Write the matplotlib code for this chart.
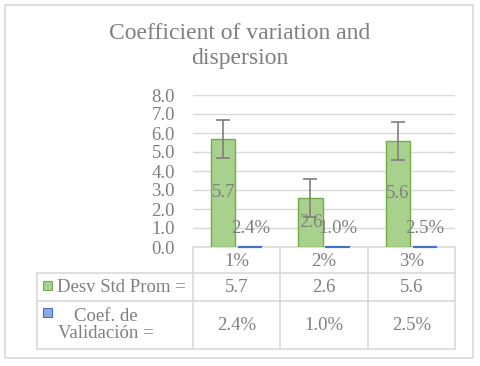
import matplotlib
matplotlib.use("Agg")
import matplotlib.pyplot as plt
from matplotlib.patches import Rectangle
import numpy as np

plt.rcParams['font.family'] = 'serif'
plt.rcParams['font.serif'] = ['Liberation Serif', 'DejaVu Serif']

categories = ["1%", "2%", "3%"]
desv_std = [5.7, 2.6, 5.6]
desv_err = [1.0, 1.0, 1.0]
coef_val = [0.024, 0.010, 0.025]
coef_labels = ["2.4%", "1.0%", "2.5%"]
series_names = ["Desv Std Prom =", "Coef. de\nValidación ="]
title = "Coefficient of variation and\ndispersion"
yticks = [0, 1, 2, 3, 4, 5, 6, 7, 8]

W, H = 480, 366
fig = plt.figure(figsize=(4.8, 3.66), dpi=100)
gray = "#7f7f7f"
grid = "#d9d9d9"
fam = 'Liberation Serif'

def fx(px): return px / W
def fy(py): return 1 - py / H

fig.patches.append(Rectangle((fx(5), fy(358)), fx(473) - fx(5), fy(5) - fy(358),
                             transform=fig.transFigure, fill=False, edgecolor=grid, lw=1.2))

left, right, top, bottom = 193, 455, 95, 247
ax = fig.add_axes([fx(left), fy(bottom), fx(right) - fx(left), fy(top) - fy(bottom)])
ax.patch.set_visible(False)
ax.set_zorder(3)
x = np.arange(len(categories))
bw = 0.28
gap = 0.03
gx = x - bw / 2 - gap / 2
bx = x + bw / 2 + gap / 2
ax.bar(gx, desv_std, bw, color="#a9d18e", edgecolor="#70ad47", lw=1.0,
       yerr=desv_err, error_kw=dict(ecolor="#7f7f7f", capsize=5, elinewidth=1.2, capthick=1.2))
ax.bar(bx, coef_val, bw, color="#8faadc", edgecolor="#4472c4", lw=1.6, clip_on=False)
fs = 13.5
for i in range(len(categories)):
    ax.text(gx[i], desv_std[i] / 2, f"{desv_std[i]:.1f}", ha="center", va="center",
            color=gray, fontsize=fs, family=fam)
    ax.text(bx[i], 0.95, coef_labels[i], ha="center", va="center", color=gray, fontsize=fs, family=fam)
ax.set_xlim(-0.5, len(categories) - 0.5)
ax.set_ylim(0, 8)
ax.set_yticks(yticks)
ax.set_yticklabels([f"{v:.1f}" for v in yticks], color=gray, fontsize=fs, family=fam)
ax.tick_params(axis='y', length=0, pad=13)
ax.set_xticks([])
ax.grid(axis='y', color=grid, lw=1.0)
ax.set_axisbelow(True)
for s in ax.spines.values():
    s.set_visible(False)

fig.text(0.5, fy(46), title, ha="center", va="center", color=gray, fontsize=17,
         linespacing=1.2, family=fam)

tl = 37
cols = [193, 280, 368, 455]
rows = [247, 273, 301, 349]
def hline(y, x0, x1):
    fig.add_artist(plt.Line2D([fx(x0), fx(x1)], [fy(y), fy(y)], color=grid, lw=1.2, zorder=1))
def vline(xp, y0, y1):
    fig.add_artist(plt.Line2D([fx(xp), fx(xp)], [fy(y0), fy(y1)], color=grid, lw=1.2, zorder=1))
hline(rows[0], cols[0], cols[-1])
for r in rows[1:]:
    hline(r, tl, cols[-1])
for c in cols:
    vline(c, rows[0], rows[-1])
vline(tl, rows[1], rows[-1])

for i, c in enumerate(categories):
    cx = (cols[i] + cols[i + 1]) / 2
    fig.text(fx(cx), fy((rows[0] + rows[1]) / 2 + 1), c, ha="center", va="center", color=gray, fontsize=fs, family=fam)
    fig.text(fx(cx), fy((rows[1] + rows[2]) / 2), f"{desv_std[i]:.1f}", ha="center", va="center", color=gray, fontsize=fs, family=fam)
    fig.text(fx(cx), fy((rows[2] + rows[3]) / 2), coef_labels[i], ha="center", va="center", color=gray, fontsize=fs, family=fam)

fig.patches.append(Rectangle((fx(43), fy(290)), fx(9), fx(9) * W / H, transform=fig.transFigure,
                             facecolor="#a9d18e", edgecolor="#70ad47", lw=0.8))
fig.patches.append(Rectangle((fx(43), fy(317)), fx(9), fx(9) * W / H, transform=fig.transFigure,
                             facecolor="#8faadc", edgecolor="#4472c4", lw=0.8))
fig.text(fx(57), fy((rows[1] + rows[2]) / 2), series_names[0], ha="left", va="center", color=gray, fontsize=fs, family=fam)
fig.text(fx(106), fy((rows[2] + rows[3]) / 2), series_names[1], ha="center", va="center", color=gray,
         fontsize=fs, linespacing=1.0, family=fam)

fig.savefig("out.png", dpi=100)
